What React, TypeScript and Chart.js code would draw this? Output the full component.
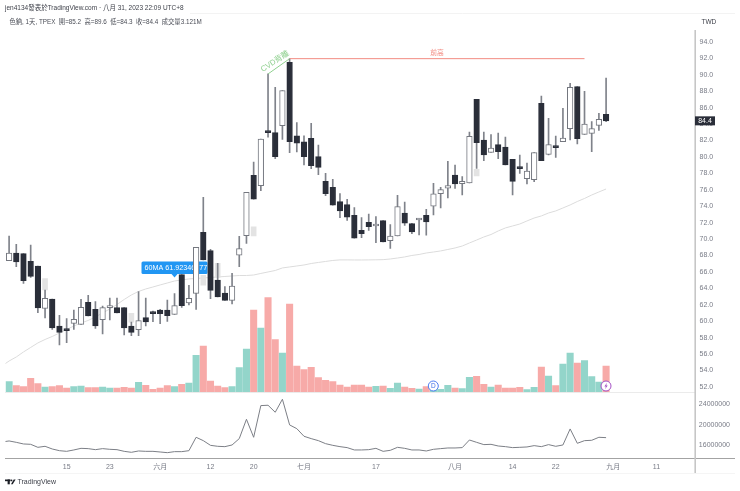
// App.tsx
import React, { useEffect, useRef } from 'react';
import { Chart, registerables } from 'chart.js';

Chart.register(...registerables);

// daily candles, index 0 is the first full candle on the left
const opens = [67.38, 68.31, 68.23, 67.3, 66.73, 61.57, 62.71, 59.42, 58.93, 59.75, 59.62, 62.3, 61.45, 60.19, 61.65, 61.65, 61.65, 59.42, 58.97, 60.44, 61.17, 61.37, 61.37, 60.84, 65.67, 62.22, 63.4, 70.83, 68.59, 65.02, 63.44, 62.55, 68.03, 70.42, 77.77, 76.51, 83.13, 82.97, 83.82, 91.53, 82.56, 81.83, 82.28, 80.04, 77.04, 76.31, 74.56, 74.2, 72.9, 71.07, 72.05, 71.6, 72.25, 69.82, 70.38, 73.18, 71.89, 72.33, 72.9, 74.0, 75.54, 76.19, 77.8, 76.75, 76.83, 87.02, 82.07, 80.57, 81.5, 81.22, 79.71, 78.82, 77.36, 77.24, 86.53, 80.32, 81.22, 81.86, 83.45, 88.56, 82.76, 82.88, 83.85, 85.2];
const highs = [70.38, 69.36, 68.23, 69.28, 66.73, 63.8, 62.71, 60.72, 60.31, 61.37, 62.67, 63.16, 62.38, 61.86, 62.83, 62.83, 61.65, 59.9, 63.6, 62.83, 61.25, 61.45, 62.59, 63.36, 65.67, 64.37, 69.0, 75.09, 68.76, 67.05, 64.21, 65.83, 70.34, 75.7, 79.39, 82.19, 90.11, 88.48, 88.08, 91.97, 84.18, 82.56, 84.1, 81.46, 78.01, 77.28, 75.54, 74.85, 73.83, 72.62, 73.06, 72.74, 72.25, 71.76, 75.34, 74.52, 71.93, 72.54, 73.63, 76.8, 76.31, 79.47, 79.02, 77.6, 83.04, 87.02, 83.04, 82.72, 82.92, 82.43, 79.71, 80.24, 79.27, 80.53, 87.42, 84.7, 82.55, 85.92, 88.97, 88.56, 87.99, 84.3, 85.3, 89.6];
const lows = [67.38, 66.65, 64.62, 65.35, 61.05, 60.4, 59.02, 57.11, 57.39, 59.02, 59.62, 60.64, 59.14, 58.45, 60.15, 61.0, 58.33, 58.25, 58.25, 59.42, 59.95, 59.7, 59.99, 60.84, 61.69, 61.98, 61.45, 67.46, 62.75, 62.95, 62.55, 62.1, 66.65, 69.49, 74.85, 75.9, 82.4, 79.8, 82.15, 80.53, 80.61, 79.03, 78.58, 77.85, 75.3, 74.12, 72.62, 72.29, 70.1, 70.18, 71.07, 69.57, 69.65, 68.88, 70.38, 71.68, 70.67, 70.51, 70.47, 72.94, 73.79, 75.01, 76.18, 75.37, 76.83, 78.62, 79.55, 80.57, 79.79, 79.02, 75.37, 78.0, 76.71, 77.0, 79.55, 80.24, 79.96, 81.86, 82.07, 81.58, 82.76, 80.65, 83.24, 84.3];
const closes = [68.31, 67.21, 64.94, 65.47, 61.61, 62.79, 59.18, 58.65, 58.85, 60.23, 61.69, 60.64, 59.42, 61.65, 61.73, 61.0, 59.18, 58.65, 60.07, 59.91, 60.92, 60.92, 60.68, 61.9, 61.9, 62.79, 69.0, 67.46, 63.76, 62.95, 62.55, 64.29, 68.84, 75.7, 74.85, 82.19, 82.97, 80.04, 88.08, 81.87, 81.67, 80.04, 78.95, 78.74, 75.54, 74.12, 73.43, 72.66, 70.1, 70.67, 71.52, 71.68, 69.65, 70.38, 73.96, 71.93, 70.87, 72.45, 72.09, 75.5, 76.02, 76.51, 76.71, 77.03, 82.51, 81.74, 80.24, 81.09, 80.65, 79.02, 77.03, 78.58, 78.29, 80.53, 79.55, 81.5, 81.13, 82.31, 88.48, 82.23, 84.0, 83.45, 84.58, 84.4];

// volume in millions
const volumes = [1.24, 0.76, 0.64, 1.64, 1.0, 0.6, 0.64, 0.76, 0.48, 0.64, 0.72, 0.52, 0.52, 0.6, 0.48, 0.48, 0.56, 0.48, 1.16, 0.8, 0.32, 0.48, 0.76, 0.64, 0.92, 1.08, 4.4, 5.52, 1.32, 0.72, 0.52, 0.64, 2.92, 5.16, 9.84, 7.68, 11.32, 6.28, 4.68, 10.56, 3.12, 2.68, 2.96, 1.72, 1.4, 1.24, 0.84, 0.6, 0.84, 0.84, 0.6, 0.68, 0.72, 0.44, 1.08, 0.6, 0.44, 0.36, 0.64, 0.64, 0.32, 0.8, 0.48, 0.4, 1.76, 1.88, 0.92, 0.6, 0.84, 0.48, 0.48, 0.56, 0.28, 0.56, 3.0, 1.92, 0.76, 3.36, 4.68, 3.48, 3.76, 1.84, 1.2, 3.121];

// 60MA, first value is the day before the first candle (runs off the left edge)
const ma60 = [54.56, 55.16, 55.65, 56.26, 56.81, 57.36, 57.78, 58.15, 58.57, 59.0, 59.42, 59.79, 60.1, 60.52, 61.01, 61.49, 62.04, 62.65, 63.2, 63.63, 63.93, 64.17, 64.42, 64.66, 64.9, 65.03, 65.15, 65.21, 65.27, 65.33, 65.39, 65.45, 65.51, 65.57, 65.57, 65.63, 65.82, 66.0, 66.18, 66.49, 66.61, 66.73, 66.85, 67.03, 67.16, 67.28, 67.4, 67.47, 67.47, 67.46, 67.46, 67.47, 67.48, 67.5, 67.58, 67.7, 67.83, 68.01, 68.13, 68.31, 68.43, 68.56, 68.74, 68.92, 69.16, 69.53, 69.89, 70.26, 70.56, 70.99, 71.36, 71.6, 71.84, 72.21, 72.57, 72.82, 73.18, 73.43, 73.79, 74.16, 74.58, 74.95, 75.37, 75.74, 76.1];

// lower pane line in millions, same leading value as ma60
const cvdMillions = [16.59, 16.79, 16.52, 16.2, 16.13, 15.54, 15.74, 15.21, 14.88, 14.75, 15.02, 15.34, 15.28, 15.08, 15.28, 15.15, 15.08, 14.75, 14.56, 14.82, 14.75, 14.75, 14.62, 14.49, 14.69, 14.69, 14.88, 17.51, 16.85, 15.93, 15.74, 15.67, 16.0, 17.25, 21.05, 17.51, 23.74, 23.81, 22.43, 24.99, 19.94, 19.21, 17.71, 17.25, 16.85, 16.26, 15.93, 15.67, 15.48, 15.02, 15.02, 15.08, 15.34, 14.75, 14.95, 15.54, 15.34, 15.02, 15.02, 14.82, 15.15, 15.28, 15.41, 15.41, 15.48, 16.98, 16.52, 16.07, 16.13, 15.8, 15.67, 15.48, 15.54, 15.61, 15.87, 15.67, 16.07, 15.74, 16.0, 19.15, 16.33, 16.85, 16.92, 17.51, 17.44];

// pale ghost bars left over on a few candles: [candle index, low, high]
const ghostBars = [[5, 63.8, 65.2], [17, 59.9, 60.96], [27, 64.4, 65.6], [29, 65.35, 67.05], [34, 70.38, 71.5], [65, 77.68, 78.5]];

const priceTicks = [94, 92, 90, 88, 86, 84, 82, 80, 78, 76, 74, 72, 70, 68, 66, 64, 62, 60, 58, 56, 54, 52];
const cvdTicks = [24, 20, 16];
const timeTickIndex = [8, 14, 21, 28, 34, 41, 51, 62, 70, 76, 84, 90];
const timeTickText = ['15', '23', '六月', '12', '20', '七月', '17', '八月', '14', '22', '九月', '11'];

const FONT = '"Liberation Sans", "Noto Sans CJK TC", sans-serif';
const TICK_COLOR = '#787b86';
const DARK = '#2a2e39';
const WICK = '#7f828a';

// one leading slot for the off-screen MA point, 12 empty days on the right are included
const SLOTS = 97;
const categories: string[] = new Array(SLOTS).fill('');
timeTickIndex.forEach((idx, n) => {
  categories[idx + 1] = timeTickText[n];
});

const withLead = <T,>(values: T[]): (T | null)[] => [null, ...values];
const isUp = closes.map((c, i) => c >= opens[i]);

const overlayUnder = {
  id: 'overlayUnder',
  beforeDatasetsDraw(chart: any) {
    const { ctx } = chart;
    const bx = chart.scales.x.getPixelForValue(24);
    ctx.save();
    // 60MA label, candles are painted over it
    ctx.fillStyle = '#2196f3';
    ctx.beginPath();
    ctx.roundRect(141.5, 261.5, 66, 12.5, 1.5);
    ctx.fill();
    ctx.beginPath();
    ctx.moveTo(bx - 3, 274);
    ctx.lineTo(bx, 277.5);
    ctx.lineTo(bx + 3, 274);
    ctx.fill();
    ctx.fillStyle = '#ffffff';
    ctx.font = `7.2px ${FONT}`;
    ctx.textBaseline = 'middle';
    ctx.fillText('60MA 61.92346477', 144.5, 268);
    ctx.restore();
  },
};

const overlayTop = {
  id: 'overlayTop',
  afterDraw(chart: any) {
    const { ctx } = chart;
    const x = chart.scales.x;
    const y = chart.scales.y;
    const line = (x1: number, y1: number, x2: number, y2: number, color: string, w = 1) => {
      ctx.strokeStyle = color;
      ctx.lineWidth = w;
      ctx.beginPath();
      ctx.moveTo(x1, y1);
      ctx.lineTo(x2, y2);
      ctx.stroke();
    };
    const text = (s: string, px: number, py: number, color: string, size: number, align = 'left') => {
      ctx.fillStyle = color;
      ctx.font = `${size}px ${FONT}`;
      ctx.textAlign = align;
      ctx.textBaseline = 'middle';
      ctx.fillText(s, px, py);
    };
    ctx.save();

    // pane frame
    line(190, 13.5, 735, 13.5, '#f3f3f3');
    line(5, 473.5, 735, 473.5, '#f5f5f5');
    line(5, 392.5, 695, 392.5, '#ebebeb');
    line(5, 458.5, 735, 458.5, '#a3a3a3');
    line(695.2, 30, 695.2, 473, '#c6c6c6', 1.6);

    // drawn annotations
    const peakX = x.getPixelForValue(40);
    const peakY = y.getPixelForValue(91.97);
    line(peakX, peakY, x.getPixelForValue(81), peakY, '#f28b82');
    text('前高', 437, 53, '#f28b82', 6.8, 'center');
    const divX = x.getPixelForValue(37);
    const divY = y.getPixelForValue(90.11);
    line(divX, divY, peakX, peakY, '#8fd08f');
    ctx.save();
    ctx.translate(275, 61.5);
    ctx.rotate(-0.57);
    text('CVD背離', 0, 0, '#8fd08f', 7.8, 'center');
    ctx.restore();

    // last price tag
    const lastY = y.getPixelForValue(closes[closes.length - 1]);
    ctx.fillStyle = DARK;
    ctx.fillRect(695, lastY - 4.5, 20, 9);
    text('84.4', 705, lastY + 0.3, '#ffffff', 7, 'center');

    // dividend and lightning markers on the volume base
    ctx.lineWidth = 1;
    ctx.fillStyle = '#ffffff';
    ctx.strokeStyle = '#4c7bf0';
    ctx.beginPath();
    ctx.arc(433.3, 386, 5, 0, Math.PI * 2);
    ctx.fill();
    ctx.stroke();
    text('D', 433.3, 386.3, '#3d6fe8', 6.5, 'center');
    ctx.fillStyle = '#ffffff';
    ctx.strokeStyle = '#a450c4';
    ctx.beginPath();
    ctx.arc(606, 386, 5, 0, Math.PI * 2);
    ctx.fill();
    ctx.stroke();
    ctx.fillStyle = '#a450c4';
    ctx.beginPath();
    ctx.moveTo(606.9, 382.8);
    ctx.lineTo(604.4, 386.5);
    ctx.lineTo(605.9, 386.5);
    ctx.lineTo(605.1, 389.2);
    ctx.lineTo(607.7, 385.5);
    ctx.lineTo(606.2, 385.5);
    ctx.closePath();
    ctx.fill();

    // header
    text('jen4134發表於TradingView.com · 八月 31, 2023 22:09 UTC+8', 5, 8.5, '#3c3f48', 6.5);
    text('色鈉, 1天, TPEX  開=85.2  高=89.6  低=84.3  收=84.4  成交量3.121M', 9.5, 22, '#4a4d56', 6.3);
    text('TWD', 701.5, 22.5, '#3c3f48', 6.5);

    // footer logo
    ctx.fillStyle = '#1c1f26';
    ctx.fillRect(5, 479.5, 5.5, 1.7);
    ctx.fillRect(7.6, 479.5, 2.2, 4.8);
    ctx.beginPath();
    ctx.arc(11.5, 480.4, 0.9, 0, Math.PI * 2);
    ctx.fill();
    ctx.beginPath();
    ctx.moveTo(12.7, 484.3);
    ctx.lineTo(15.6, 479.5);
    ctx.lineTo(13.7, 479.5);
    ctx.lineTo(11, 484.3);
    ctx.closePath();
    ctx.fill();
    text('TradingView', 17.5, 482, '#3c3f48', 7);

    ctx.restore();
  },
};

const App: React.FC = () => {
  const canvasRef = useRef<HTMLCanvasElement | null>(null);

  useEffect(() => {
    document.body.style.margin = '0';
    const ctx = canvasRef.current?.getContext('2d');
    if (!ctx) return;

    const ghost: ([number, number] | null)[] = new Array(SLOTS).fill(null);
    ghostBars.forEach(([i, lo, hi]) => {
      ghost[i + 1] = [lo, hi];
    });

    const chart = new Chart(ctx, {
      type: 'bar',
      data: {
        labels: categories,
        datasets: [
          {
            label: '60MA',
            type: 'line',
            yAxisID: 'y',
            data: ma60,
            borderColor: '#dcdcdc',
            borderWidth: 1,
            pointRadius: 0,
            tension: 0,
            order: 6,
          },
          {
            label: 'volume',
            yAxisID: 'yVol',
            data: withLead(volumes),
            backgroundColor: withLead(isUp.map((up) => (up ? '#93d5ca' : '#f7aaa8'))),
            barThickness: 6.4,
            grouped: false,
            order: 5,
          },
          {
            label: 'ghost',
            yAxisID: 'y',
            data: ghost,
            backgroundColor: '#e3e3e3',
            barThickness: 5,
            grouped: false,
            order: 4,
          },
          {
            label: 'wick',
            yAxisID: 'y',
            data: withLead(lows.map((low, i) => [low, highs[i]])),
            backgroundColor: WICK,
            barThickness: 1,
            grouped: false,
            order: 3,
          },
          {
            label: 'body',
            yAxisID: 'y',
            data: withLead(opens.map((o, i) => [o, closes[i]])),
            backgroundColor: withLead(isUp.map((up) => (up ? '#ffffff' : DARK))),
            borderColor: withLead(isUp.map((up) => (up ? '#74777f' : DARK))),
            borderWidth: 1,
            borderSkipped: false,
            barThickness: 5.6,
            minBarLength: 2,
            grouped: false,
            order: 2,
          },
          {
            label: 'cvd',
            type: 'line',
            yAxisID: 'yCvd',
            data: cvdMillions,
            borderColor: '#7c7f86',
            borderWidth: 1,
            pointRadius: 0,
            tension: 0,
            order: 1,
          },
        ],
      } as any,
      options: {
        responsive: false,
        animation: false,
        layout: { padding: { top: 30, left: 5.5, right: 0, bottom: 0 } },
        plugins: { legend: { display: false }, tooltip: { enabled: false } },
        scales: {
          x: {
            type: 'category',
            min: 1,
            offset: true,
            grid: { display: false, drawTicks: false },
            border: { display: false },
            ticks: {
              autoSkip: false,
              maxRotation: 0,
              padding: 4.5,
              color: TICK_COLOR,
              font: { size: 7, family: FONT },
            },
            afterFit: (scale: any) => {
              scale.height = 33;
            },
          },
          // all three value axes share the chart area, their ranges place them in their panes
          y: {
            position: 'right',
            min: 43.35,
            max: 95.46,
            grid: { display: false, drawTicks: false },
            border: { display: false },
            ticks: {
              padding: 3.5,
              color: TICK_COLOR,
              font: { size: 7, family: FONT },
              callback: (v: any) => Number(v).toFixed(1),
            },
            afterBuildTicks: (scale: any) => {
              scale.ticks = priceTicks.map((value) => ({ value }));
            },
            afterFit: (scale: any) => {
              scale.width = 44;
            },
          },
          yVol: {
            display: false,
            min: -7.92,
            max: 43.44,
          },
          // zero-width axis: mirror keeps its labels from being clipped to the box,
          // the big tick padding must not reach the layout
          yCvd: {
            position: 'right',
            weight: -1,
            min: 13.44,
            max: 97.57,
            grid: { display: false, drawTicks: false },
            border: { display: false },
            ticks: {
              mirror: true,
              padding: 34,
              color: TICK_COLOR,
              font: { size: 7, family: FONT },
              callback: (v: any) => String(Number(v) * 1000000),
            },
            afterBuildTicks: (scale: any) => {
              scale.ticks = cvdTicks.map((value) => ({ value }));
            },
            afterFit: (scale: any) => {
              scale.width = 0;
              scale.paddingTop = 0;
              scale.paddingBottom = 0;
            },
          },
        },
      } as any,
      plugins: [overlayUnder, overlayTop],
    });

    return () => {
      chart.destroy();
    };
  }, []);

  return <canvas ref={canvasRef} width={740} height={491} style={{ display: 'block' }} />;
};

export default App;
